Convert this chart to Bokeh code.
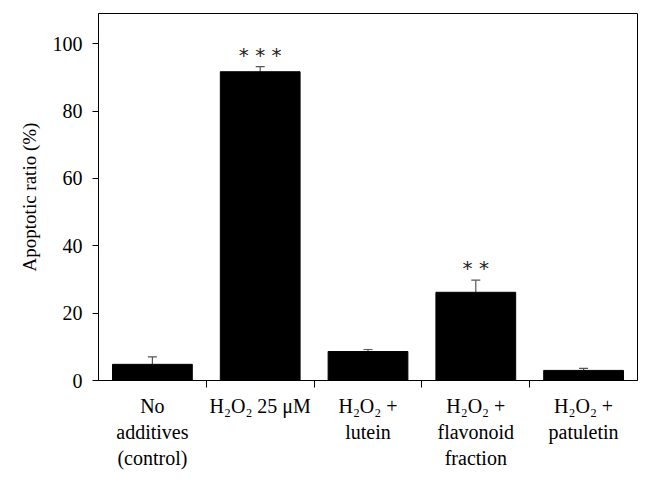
from bokeh.plotting import figure
from bokeh.models import ColumnDataSource, FixedTicker, Range1d, Whisker, TeeHead
from bokeh.core.properties import value
from bokeh.embed import file_html
from bokeh.resources import INLINE

categories = ["No\nadditives\n(control)", "H\u2082O\u2082 25 \u03bcM", "H\u2082O\u2082 +\nlutein",
              "H\u2082O\u2082 +\nflavonoid\nfraction", "H\u2082O\u2082 +\npatuletin"]
values = [4.8, 91.7, 8.6, 26.2, 3.0]
errors = [2.2, 1.5, 0.6, 3.6, 0.6]
significance = ["* * *", "* *"]
significance_idx = [1, 3]
y_ticks = [0, 20, 40, 60, 80, 100]

FONT = "Liberation Serif"

xs = [i + 0.5 for i in range(len(categories))]
upper = [v + e for v, e in zip(values, errors)]
src = ColumnDataSource(dict(x=xs, top=values, upper=upper))
sig_src = ColumnDataSource(dict(x=[xs[i] for i in significance_idx],
                                y=[upper[i] + 3.6 for i in significance_idx],
                                text=significance))

p = figure(width=648, height=472, output_backend="svg", toolbar_location=None,
           x_range=Range1d(0, len(categories)), y_range=Range1d(0, 109),
           min_border_left=98, min_border_top=13, min_border_right=11, min_border_bottom=90)

p.vbar(x="x", top="top", bottom=0, width=0.74, source=src, fill_color="black", line_color="black")
w = Whisker(base="x", upper="upper", lower="top", source=src, line_color="#555555", line_width=1.2,
            upper_head=TeeHead(size=9, line_color="#555555", line_width=1.2), lower_head=None)
p.add_layout(w)
p.text(x="x", y="y", text="text", source=sig_src, text_align="center", text_baseline="alphabetic",
       text_font=value("DejaVu Sans"), text_font_size="20px", text_color="#222222")

p.xgrid.visible = False
p.ygrid.visible = False
p.outline_line_color = "black"
p.outline_line_width = 1
p.background_fill_color = "white"
p.border_fill_color = "white"

xa = p.xaxis[0]
xa.ticker = FixedTicker(ticks=xs, minor_ticks=[1, 2, 3, 4])
xa.major_label_overrides = {x: c for x, c in zip(xs, categories)}
xa.major_tick_line_color = None
xa.minor_tick_line_color = "black"
xa.minor_tick_out = 7
xa.minor_tick_in = 0
xa.major_label_standoff = 7
xa.major_label_text_font = FONT
xa.major_label_text_font_size = "20px"
xa.major_label_text_color = "black"
xa.axis_line_color = "black"

ya = p.yaxis[0]
ya.ticker = FixedTicker(ticks=y_ticks)
ya.minor_tick_line_color = None
ya.major_tick_out = 6
ya.major_tick_in = 0
ya.major_label_standoff = 10
ya.major_label_text_font = FONT
ya.major_label_text_font_size = "20px"
ya.major_label_text_color = "black"
ya.axis_label = "Apoptotic ratio (%)"
ya.axis_label_text_font = FONT
ya.axis_label_text_font_style = "normal"
ya.axis_label_text_font_size = "19px"
ya.axis_label_text_color = "black"
ya.axis_label_standoff = 10
ya.axis_line_color = "black"

open("out.html", "w").write(file_html(p, INLINE))
